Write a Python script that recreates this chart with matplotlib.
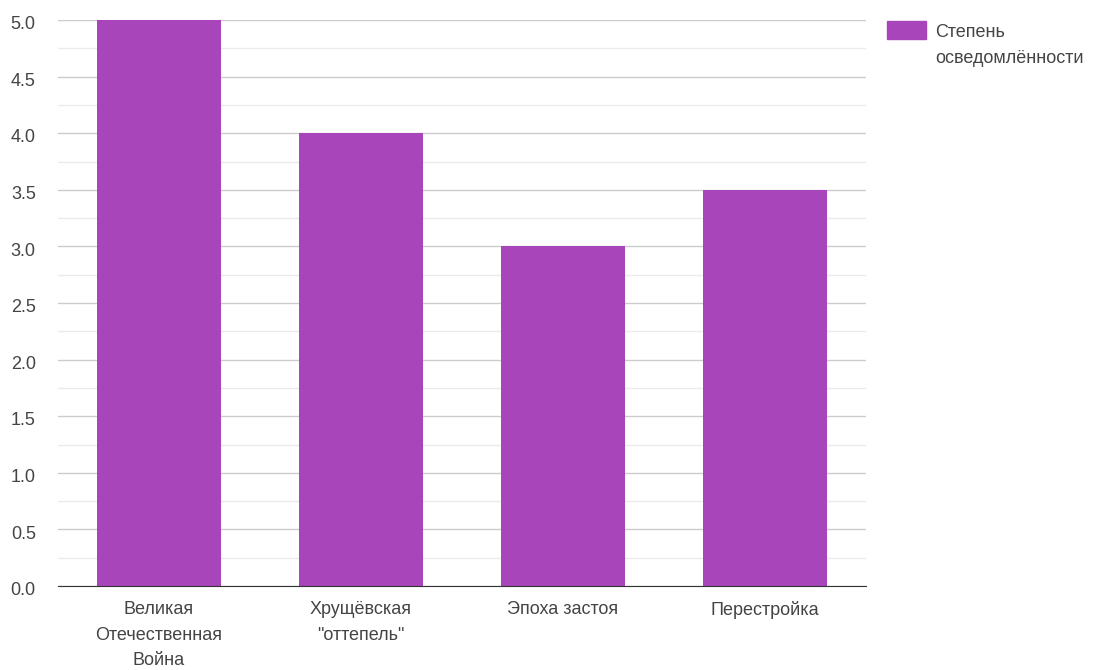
import matplotlib.pyplot as plt
from matplotlib.ticker import MultipleLocator
from matplotlib.patches import Rectangle
from matplotlib.transforms import ScaledTranslation

# Chart data
categories = ['Великая\nОтечественная\nВойна', 'Хрущёвская\n"оттепель"', 'Эпоха застоя', 'Перестройка']
values = [5.0, 4.0, 3.0, 3.5]
series_name = 'Степень\nосведомлённости'
bar_color = '#a845ba'
text_color = '#444444'

plt.rcParams['font.family'] = ['Liberation Sans', 'DejaVu Sans']
fsize = 13

fig = plt.figure(figsize=(10.96, 6.70), dpi=100)
ax = fig.add_axes([58 / 1096, 1 - 586 / 670, 808 / 1096, 566 / 670])

x = list(range(len(categories)))
ax.bar(x, values, width=0.615, color=bar_color, zorder=3)

ax.set_xlim(-0.5, len(categories) - 0.5)
ax.set_ylim(0, 5.0)
ax.yaxis.set_major_locator(MultipleLocator(0.5))
ax.yaxis.set_minor_locator(MultipleLocator(0.25))
ax.yaxis.set_major_formatter(plt.FuncFormatter(lambda v, p: f'{v:.1f}'))
ax.grid(axis='y', which='major', color='#cccccc', linewidth=1, zorder=0)
ax.grid(axis='y', which='minor', color='#ebebeb', linewidth=1, zorder=0)

for side in ['top', 'right', 'left']:
    ax.spines[side].set_visible(False)
ax.spines['bottom'].set_color('#333333')
ax.spines['bottom'].set_zorder(4)

ax.set_xticks(x)
ax.set_xticklabels(categories, linespacing=1.64)
ax.tick_params(axis='x', length=0, pad=11, labelsize=fsize, labelcolor=text_color)
ax.tick_params(axis='y', which='both', length=0, pad=16, labelsize=fsize, labelcolor=text_color)
# nudge y labels slightly down like the original
shift = ScaledTranslation(0, -2 / 72, fig.dpi_scale_trans)
for lbl in ax.get_yticklabels():
    lbl.set_transform(lbl.get_transform() + shift)

# Legend drawn by hand to match the wrapped label
fig.patches.append(Rectangle((887 / 1096, 1 - 39 / 670), 39 / 1096, 18 / 670,
                             transform=fig.transFigure, color=bar_color))
fig.text(935 / 1096, 1 - 24 / 670, series_name, ha='left', va='top',
         fontsize=fsize, color=text_color, linespacing=1.66)

fig.savefig('out.png', dpi=100)
